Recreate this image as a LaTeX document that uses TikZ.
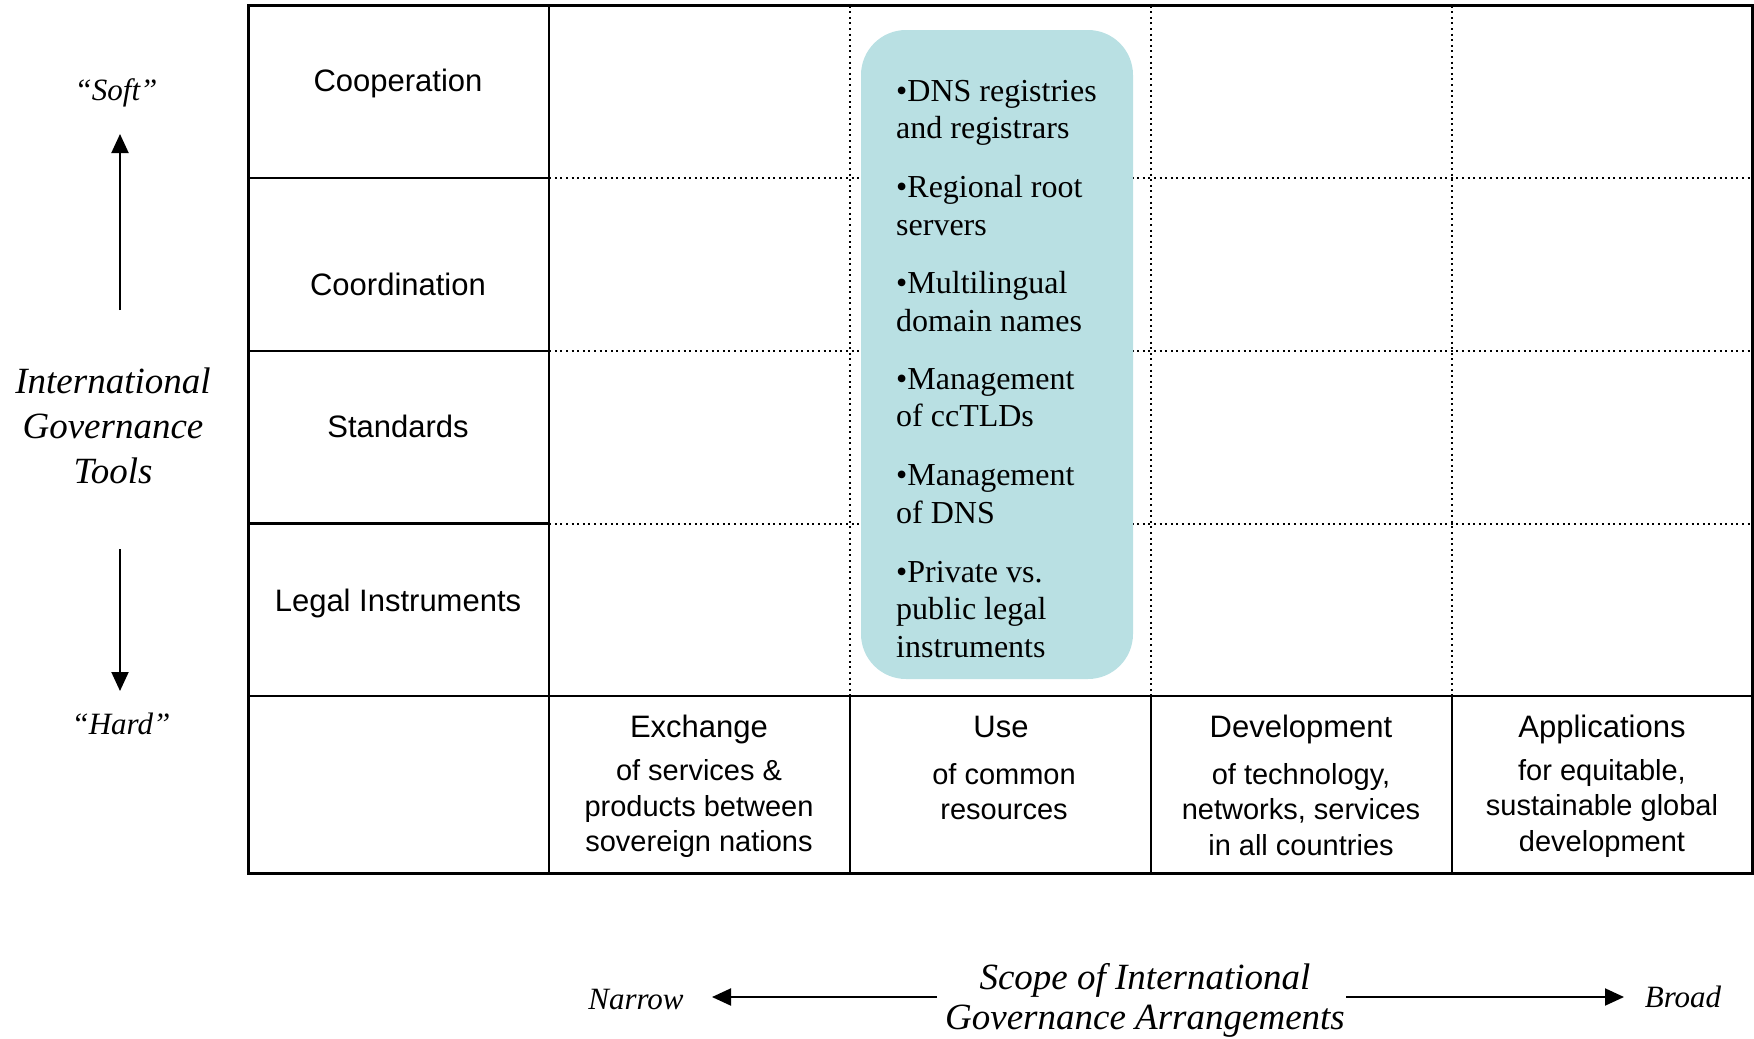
\documentclass[tikz,border=0pt]{standalone}
\usepackage{fontspec}
\setmainfont{Liberation Serif}
\setsansfont{Liberation Sans}
\usetikzlibrary{arrows.meta}
\definecolor{tealbox}{HTML}{B9E0E3}
\tikzset{
  gridline/.style={line width=2.5pt},
  dotline/.style={line width=2pt, dash pattern=on 2pt off 3.6pt},
  rowlab/.style={font=\sffamily\fontsize{31}{37}\selectfont, inner sep=0pt, anchor=base},
  colhead/.style={font=\sffamily\fontsize{31}{37}\selectfont, inner sep=0pt, anchor=base},
  colsub/.style={font=\sffamily\fontsize{29}{35.5}\selectfont, inner sep=0pt, anchor=north, align=center},
  bulletitem/.style={font=\rmfamily\fontsize{32}{37.5}\selectfont, inner sep=0pt, anchor=north west, align=left},
  axislab/.style={font=\rmfamily\itshape\fontsize{31}{37}\selectfont, inner sep=0pt, anchor=base},
  bigital/.style={font=\rmfamily\itshape\fontsize{37}{45}\selectfont, inner sep=0pt, align=center},
  axisarrow/.style={line width=2pt, -{Triangle[length=19pt,width=17pt]}},
}
\begin{document}
\begin{tikzpicture}[x=1pt,y=-1pt]
\useasboundingbox (0,0) rectangle (1754,1039);
% dotted inner grid
\foreach \xx in {850.1,1151,1452} \draw[dotline] (\xx,5.6) -- (\xx,695.8);
\foreach \yy in {177.9,351.2,523.5} \draw[dotline] (549.2,\yy) -- (1752.5,\yy);
% teal box
\fill[tealbox, rounded corners=45pt] (861,30) rectangle (1133,679);
% solid grid
\draw[gridline] (248.3,5.6) rectangle (1752.5,873.6);
\draw[gridline] (549.2,5.6) -- (549.2,873.6);
\draw[gridline] (248.3,695.8) -- (1752.5,695.8);
\foreach \xx in {850.1,1151,1452} \draw[gridline] (\xx,695.8) -- (\xx,873.6);
\foreach \yy in {177.9,351.2,523.5} \draw[gridline] (248.3,\yy) -- (549.2,\yy);
% row labels
\node[rowlab] (coop) at (398,91.5) {Cooperation};
\node[rowlab] (coord) at (398,295) {Coordination};
\node[rowlab] (stand) at (398,437) {Standards};
\node[rowlab] (legal) at (398,611) {Legal Instruments};
% bullets
\node[bulletitem] (b1) at (896,80) {•DNS registries\\and registrars};
\node[bulletitem] (b2) at (896,175.5) {•Regional root\\servers};
\node[bulletitem] (b3) at (896,271.5) {•Multilingual\\domain names};
\node[bulletitem] (b4) at (896,368) {•Management\\of ccTLDs};
\node[bulletitem] (b5) at (896,464.5) {•Management\\of DNS};
\node[bulletitem] (b6) at (896,561) {•Private vs.\\public legal\\instruments};
% column headings
\node[colhead] (h1) at (699,737) {Exchange};
\node[colsub] (s1) at (699,759.5) {of services \&\\products between\\sovereign nations};
\node[colhead] (h2) at (1001,737) {Use};
\node[colsub] (s2) at (1004,763) {of common\\resources};
\node[colhead] (h3) at (1301,737) {Development};
\node[colsub] (s3) at (1301,763) {of technology,\\networks, services\\in all countries};
\node[colhead] (h4) at (1602,737) {Applications};
\node[colsub] (s4) at (1602,759) {for equitable,\\sustainable global\\development};
% vertical axis
\node[axislab] (soft) at (116,100) {“Soft”};
\node[axislab] (hard) at (121,734) {“Hard”};
\node[bigital] (igt) at (113,426) {International\\Governance\\Tools};
\coordinate (upS) at (120,310);
\coordinate (upE) at (120,134);
\coordinate (dnS) at (120,549);
\coordinate (dnE) at (120,691);
\draw[axisarrow] (upS) -- (upE);
\draw[axisarrow] (dnS) -- (dnE);
% horizontal axis
\node[axislab] (narrow) at (636,1009) {Narrow};
\node[axislab] (broad) at (1683,1007) {Broad};
\node[bigital, font=\rmfamily\itshape\fontsize{37}{40}\selectfont] (scope) at (1145,1000) {Scope of International\\Governance Arrangements};
\coordinate (lS) at (937,997);
\coordinate (lE) at (712,997);
\coordinate (rS) at (1346,997);
\coordinate (rE) at (1624,997);
\draw[axisarrow] (lS) -- (lE);
\draw[axisarrow] (rS) -- (rE);
\end{tikzpicture}
\end{document}
